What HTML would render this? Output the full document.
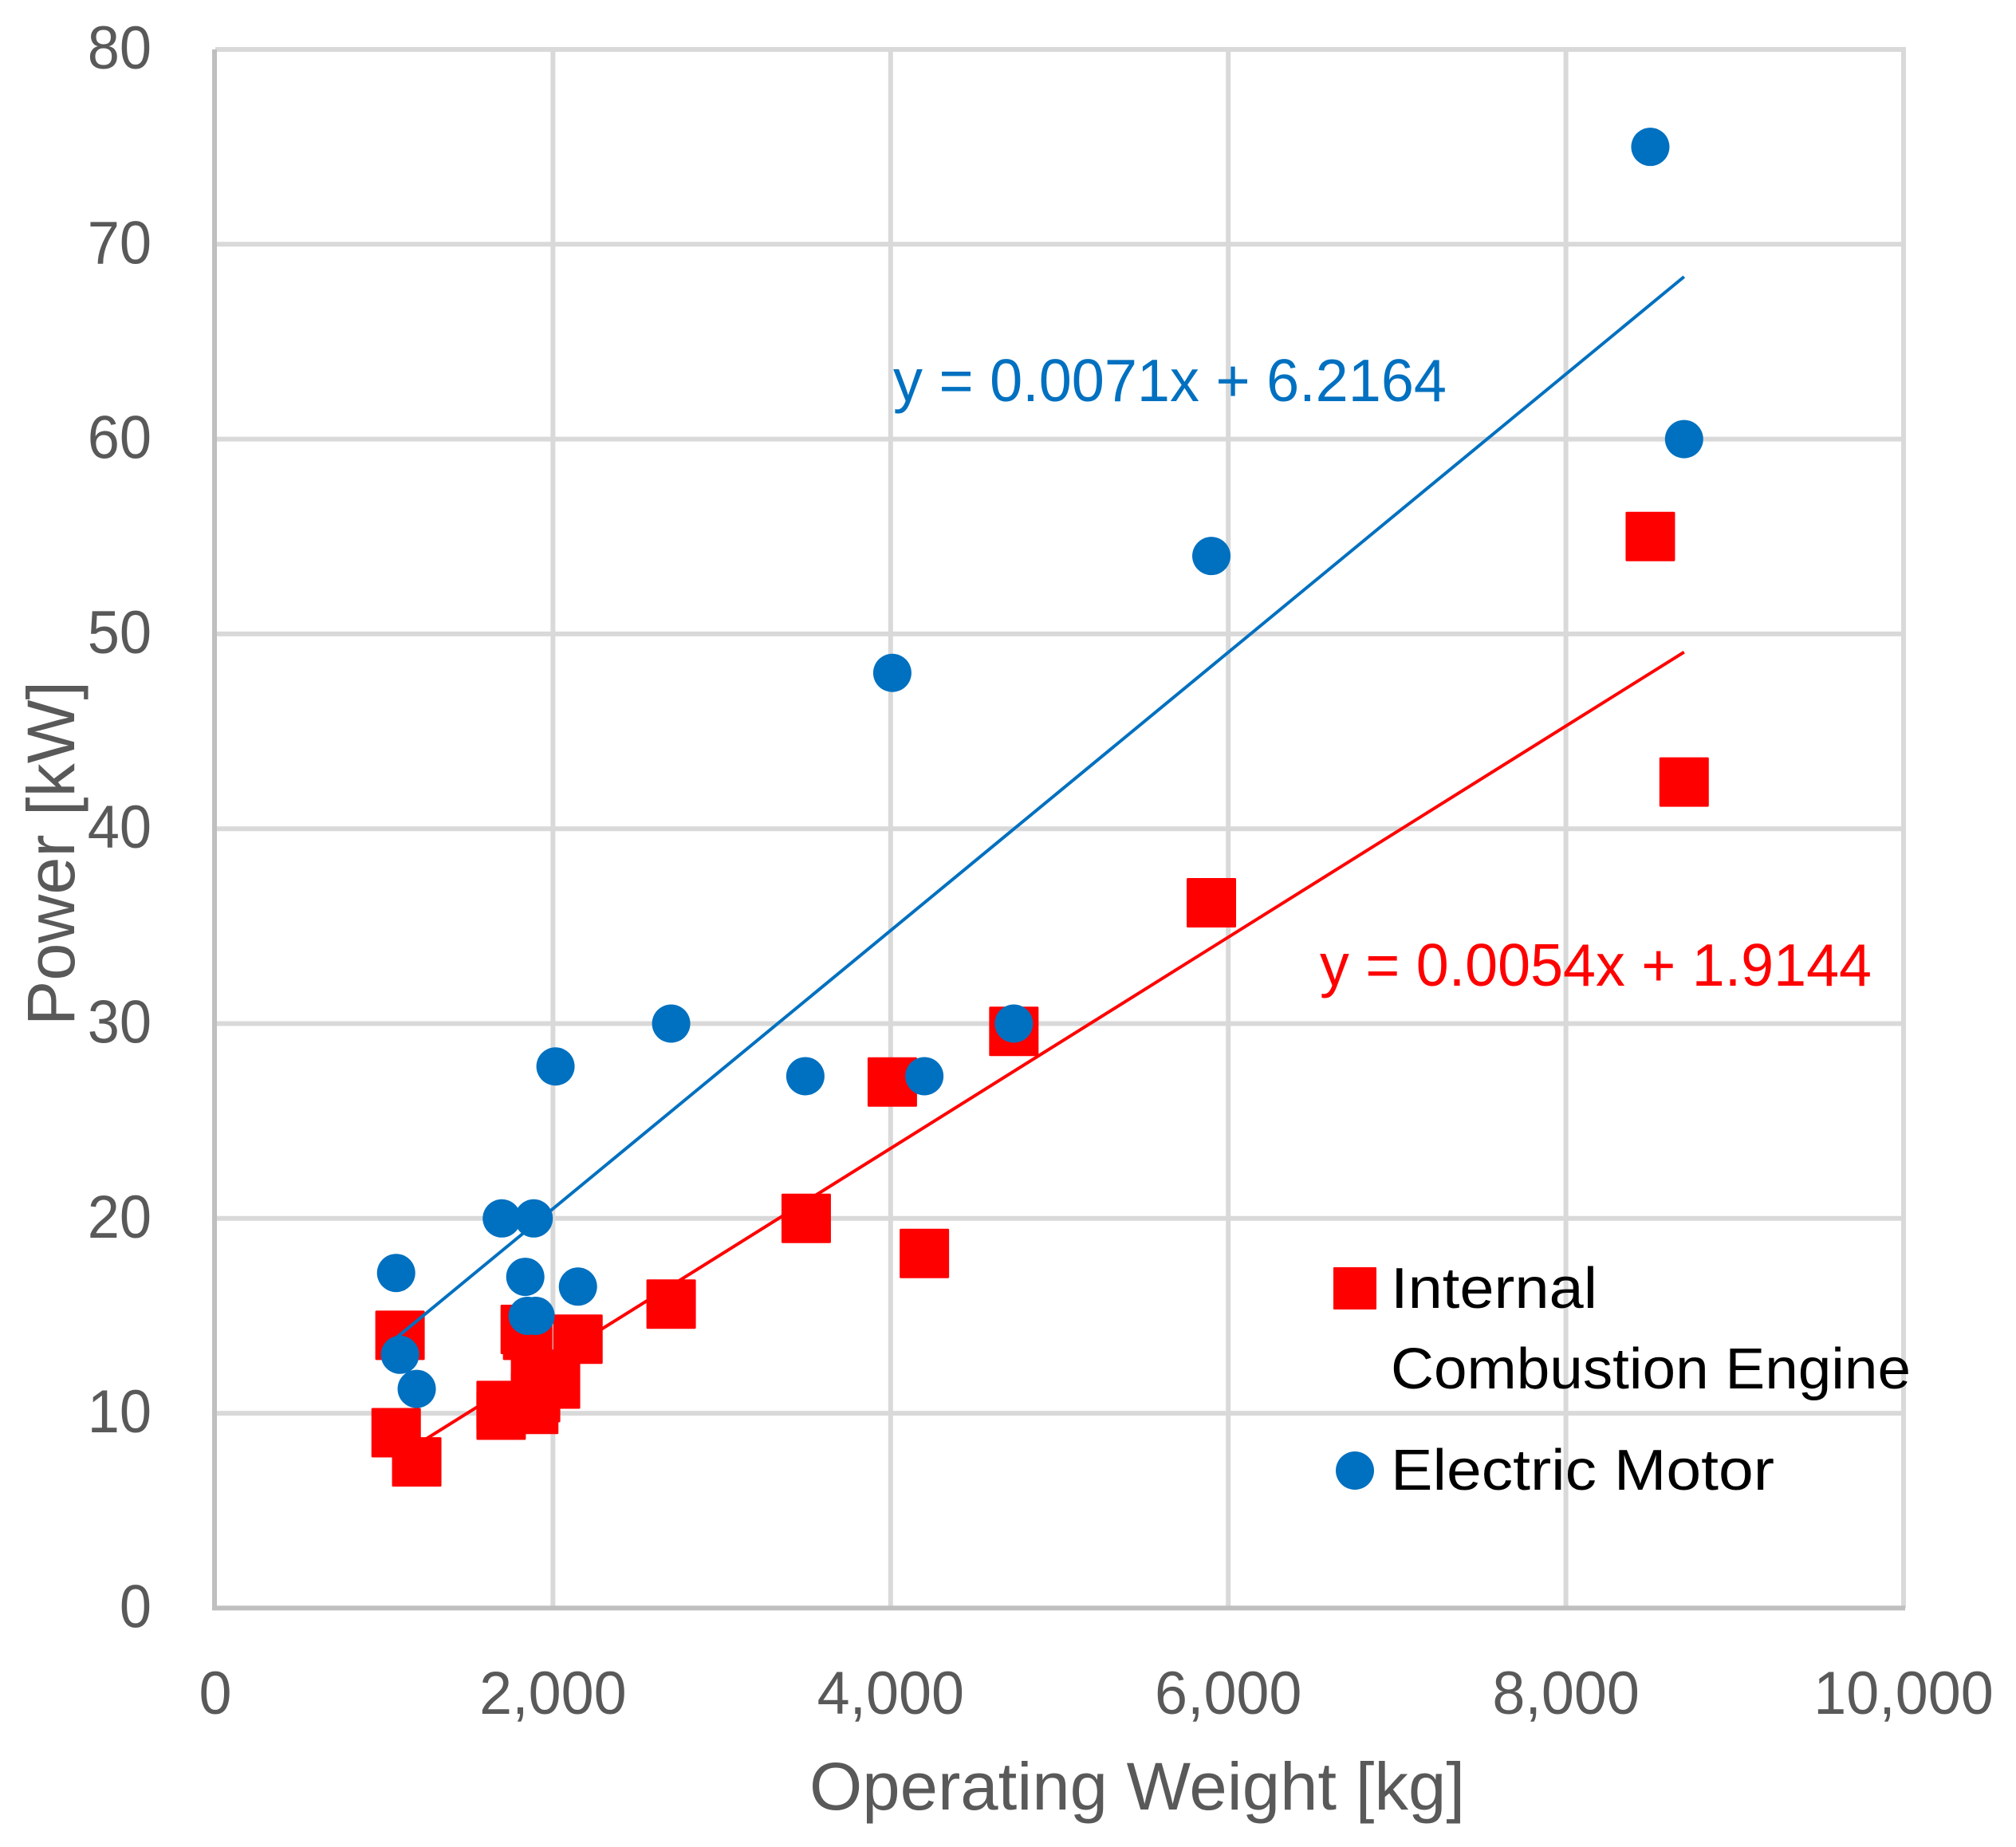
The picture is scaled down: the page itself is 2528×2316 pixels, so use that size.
<!DOCTYPE html>
<html lang="en">
<head>
<meta charset="utf-8">
<title>Power vs Operating Weight</title>
<style>
html,body{margin:0;padding:0;background:#fff}
svg{display:block}
text{font-family:"Liberation Sans",sans-serif}
</style>
</head>
<body>
<svg id="chart" xmlns="http://www.w3.org/2000/svg" width="2528" height="2316" viewBox="0 0 2528 2316">
<rect x="0" y="0" width="2528" height="2316" fill="#fff"/>
<g id="grid"></g>
<g id="axes"></g>
<g id="ticks"></g>
<g id="marks"></g>
<text x="1015" y="2269" font-size="84" fill="#595959" textLength="822" lengthAdjust="spacingAndGlyphs">Operating Weight [kg]</text>
<text transform="translate(93,1286) rotate(-90)" font-size="84" fill="#595959" textLength="432" lengthAdjust="spacingAndGlyphs">Power [kW]</text>
<text x="1120" y="503" font-size="75" fill="#0070C0" textLength="694" lengthAdjust="spacingAndGlyphs">y = 0.0071x + 6.2164</text>
<text x="1655" y="1236" font-size="75" fill="#FF0000" textLength="692" lengthAdjust="spacingAndGlyphs">y = 0.0054x + 1.9144</text>
<g>
<rect x="1672" y="1589" width="54" height="53" rx="1" fill="#FF0000"/>
<text x="1744" y="1640" font-size="72" fill="#000" textLength="259" lengthAdjust="spacingAndGlyphs">Internal</text>
<text x="1744" y="1741" font-size="72" fill="#000" textLength="652" lengthAdjust="spacingAndGlyphs">Combustion Engine</text>
<circle cx="1699" cy="1844" r="24" fill="#0070C0"/>
<text x="1744" y="1868" font-size="72" fill="#000" textLength="481" lengthAdjust="spacingAndGlyphs">Electric Motor</text>
</g>
</svg>
<script>
const xTicks = [0, 2000, 4000, 6000, 8000, 10000];
const yTicks = [0, 10, 20, 30, 40, 50, 60, 70, 80];
const xTickLabels = ['0', '2,000', '4,000', '6,000', '8,000', '10,000'];
const yTickLabels = ['0', '10', '20', '30', '40', '50', '60', '70', '80'];

const iceWeight = [1094, 1071, 1193, 1693, 1693, 1836, 1850, 1897, 1897, 1886, 2148, 2015, 2700, 3500, 4010, 4200, 4730, 5900, 8500, 8700];
const icePower = [14.0, 9.0, 7.5, 10.4, 9.9, 14.3, 14.0, 12.0, 10.8, 10.2, 13.8, 11.5, 15.6, 20.0, 27.0, 18.2, 29.6, 36.2, 55.0, 42.4];
const electricWeight = [1094, 1071, 1193, 1697, 1886, 1836, 2148, 1850, 1897, 2015, 2700, 3495, 4010, 4200, 4730, 5900, 8500, 8700];
const electricPower = [13.0, 17.2, 11.25, 20.0, 20.0, 17.0, 16.5, 15.0, 15.0, 27.8, 30.0, 27.3, 48.0, 27.3, 30.0, 54.0, 75.0, 60.0];

const iceTrend = [0.00542, 1.9144];
const electricTrend = [0.00714, 6.2164];
const trendRange = [1071, 8700];

const SVGNS = 'http://www.w3.org/2000/svg';
const plotLeft = 270, plotRight = 2387, plotTop = 62, plotBottom = 2016.4;
const xMax = 10000, yMax = 80;
function xScale(v) { return plotLeft + (v / xMax) * (plotRight - plotLeft); }
function yScale(v) { return plotBottom - (v / yMax) * (plotBottom - plotTop); }
function make(tag, parent, attrs) {
  const el = document.createElementNS(SVGNS, tag);
  for (const k in attrs) el.setAttribute(k, attrs[k]);
  parent.appendChild(el);
  return el;
}
const gridG = document.getElementById('grid');
const axesG = document.getElementById('axes');
const ticksG = document.getElementById('ticks');
const marksG = document.getElementById('marks');

xTicks.forEach(function (t, i) {
  if (t === 0) return;
  const line = make('line', gridG, { x1: xScale(t), x2: xScale(t), y1: plotTop - 3, y2: plotBottom, stroke: '#D9D9D9', 'stroke-width': 6 });
  
  
});
yTicks.forEach(function (t) {
  if (t === 0) return;
  const line = make('line', gridG, { x1: plotLeft, x2: plotRight + 3, y1: yScale(t), y2: yScale(t), stroke: '#D9D9D9', 'stroke-width': 6 });
  
  
});

const yAxisLine = make('line', axesG, { x1: plotLeft - 1, x2: plotLeft - 1, y1: plotTop, y2: plotBottom + 3, stroke: '#BFBFBF', 'stroke-width': 6 });


const xAxisLine = make('line', axesG, { x1: plotLeft - 1, x2: plotRight + 2, y1: plotBottom, y2: plotBottom, stroke: '#BFBFBF', 'stroke-width': 6 });



xTicks.forEach(function (t, i) {
  const label = make('text', ticksG, { transform: 'translate(' + xScale(t) + ',2149) scale(0.97,1)', 'text-anchor': 'middle', 'font-size': 76, fill: '#595959' });
  
  
  label.textContent = xTickLabels[i];
});
yTicks.forEach(function (t, i) {
  const label = make('text', ticksG, { transform: 'translate(190,' + (yScale(t) + 24) + ') scale(0.95,1)', 'text-anchor': 'end', 'font-size': 76, fill: '#595959' });
  
  
  label.textContent = yTickLabels[i];
});

function trendPoints(trend, x) { return trend[0] * x + trend[1]; }

const iceLine = make('line', marksG, { x1: xScale(trendRange[0]), y1: yScale(trendPoints(iceTrend, trendRange[0])), x2: xScale(trendRange[1]), y2: yScale(trendPoints(iceTrend, trendRange[1])), stroke: '#FF0000', 'stroke-width': 4 });



iceWeight.forEach(function (w, i) {
  const size = 62;
  const sq = make('rect', marksG, { x: xScale(w) - size / 2, y: yScale(icePower[i]) - size / 2, width: size, height: size, rx: 1.5, fill: '#FF0000' });
  
  
});

const elecLine = make('line', marksG, { x1: xScale(trendRange[0]), y1: yScale(trendPoints(electricTrend, trendRange[0])), x2: xScale(trendRange[1]), y2: yScale(trendPoints(electricTrend, trendRange[1])), stroke: '#0070C0', 'stroke-width': 4 });



electricWeight.forEach(function (w, i) {
  const c = make('circle', marksG, { cx: xScale(w), cy: yScale(electricPower[i]), r: 24, fill: '#0070C0' });
  
  
});
</script>
</body>
</html>
